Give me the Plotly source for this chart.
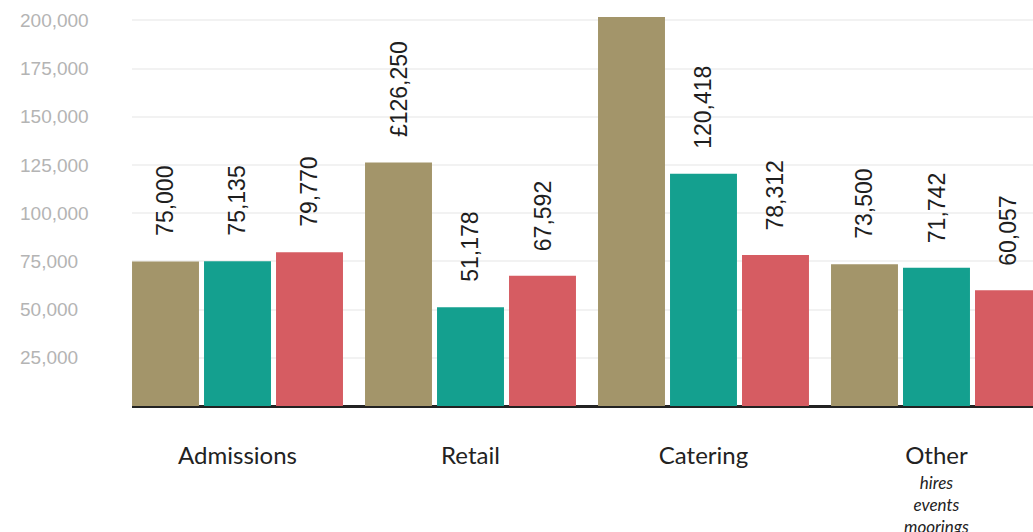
import plotly.graph_objects as go

categories = ["Admissions", "Retail", "Catering", "Other"]
category_labels = ["Admissions", "Retail", "Catering", "Other"]
other_sublabels = ["hires", "events", "moorings"]

series_gold = [75000, 126250, 201800, 73500]
series_teal = [75135, 51178, 120418, 71742]
series_red = [79770, 67592, 78312, 60057]
label_prefix_gold = ["", "£", "", ""]

y_tickvals = [25000, 50000, 75000, 100000, 125000, 150000, 175000, 200000]
y_ticktext = ["25,000", "50,000", "75,000", "100,000", "125,000", "150,000", "175,000", "200,000"]

colors = ["#A3956A", "#14A08F", "#D65C62"]
BARGAP = 0.073
BARGROUPGAP = 0.07
Y_MAX = 210600
W, H = 1033, 532
ML, MB = 16, 126

fig = go.Figure()
series = [series_gold, series_teal, series_red]
prefixes = [label_prefix_gold, [""] * 4, [""] * 4]
for s, c in zip(series, colors):
    fig.add_trace(go.Bar(x=categories, y=s, marker=dict(color=c, line=dict(width=0)),
                         showlegend=False, hoverinfo="x+y"))

# dummy trace so the left label axis exists
fig.add_trace(go.Scatter(x=[categories[0]], y=[None], yaxis="y2", showlegend=False,
                         hoverinfo="skip", mode="markers"))

slot = (1 - BARGAP) / 3
annotations = []
for k, (s, pre) in enumerate(zip(series, prefixes)):
    for i, v in enumerate(s):
        annotations.append(dict(
            x=i + (k - 1) * slot, y=v, xref="x", yref="y",
            text=f"{pre[i]}{v:,}", showarrow=False, textangle=-90,
            xanchor="center", yanchor="bottom", yshift=23,
            font=dict(family="Liberation Sans, Arial, sans-serif", size=23, color="#1e1e1e"),
        ))

# italic sub-lines under "Other"
annotations.append(dict(
    x=categories[3], y=0, xref="x", yref="paper",
    text="<i>" + "<br>".join(other_sublabels) + "</i>", showarrow=False,
    xanchor="center", yanchor="top", yshift=-64, align="center",
    font=dict(family="Lato, sans-serif", size=17, color="#222222"),
))

x_left_px = 132
dom0 = (x_left_px - ML) / (W - ML)
fig.update_layout(
    width=W, height=H,
    margin=dict(l=ML, r=0, t=0, b=MB),
    paper_bgcolor="white", plot_bgcolor="white",
    barmode="group", bargap=BARGAP, bargroupgap=BARGROUPGAP,
    annotations=annotations,
    xaxis=dict(domain=[dom0, 1], range=[-0.4528, 3.4142], type="category", automargin=False,
               tickmode="array", tickvals=categories, ticktext=category_labels,
               ticks="", ticklabelstandoff=33, showline=False, showgrid=False, zeroline=False,
               tickfont=dict(family="Lato, sans-serif", size=24, color="#222222")),
    yaxis=dict(range=[0, Y_MAX], tickvals=y_tickvals, showticklabels=False, automargin=False,
               showgrid=True, gridcolor="#f2f2f2", gridwidth=2,
               zeroline=True, zerolinecolor="#222222", zerolinewidth=3, showline=False),
    yaxis2=dict(range=[0, Y_MAX], overlaying="y", anchor="free", position=0, side="left",
                automargin=False,
                tickmode="array", tickvals=y_tickvals, ticktext=y_ticktext,
                ticklabelposition="inside", ticks="", showgrid=False, zeroline=False, showline=False,
                tickfont=dict(family="Liberation Sans, Arial, sans-serif", size=19, color="#b4b4b4")),
)

fig.write_html("out.html")
